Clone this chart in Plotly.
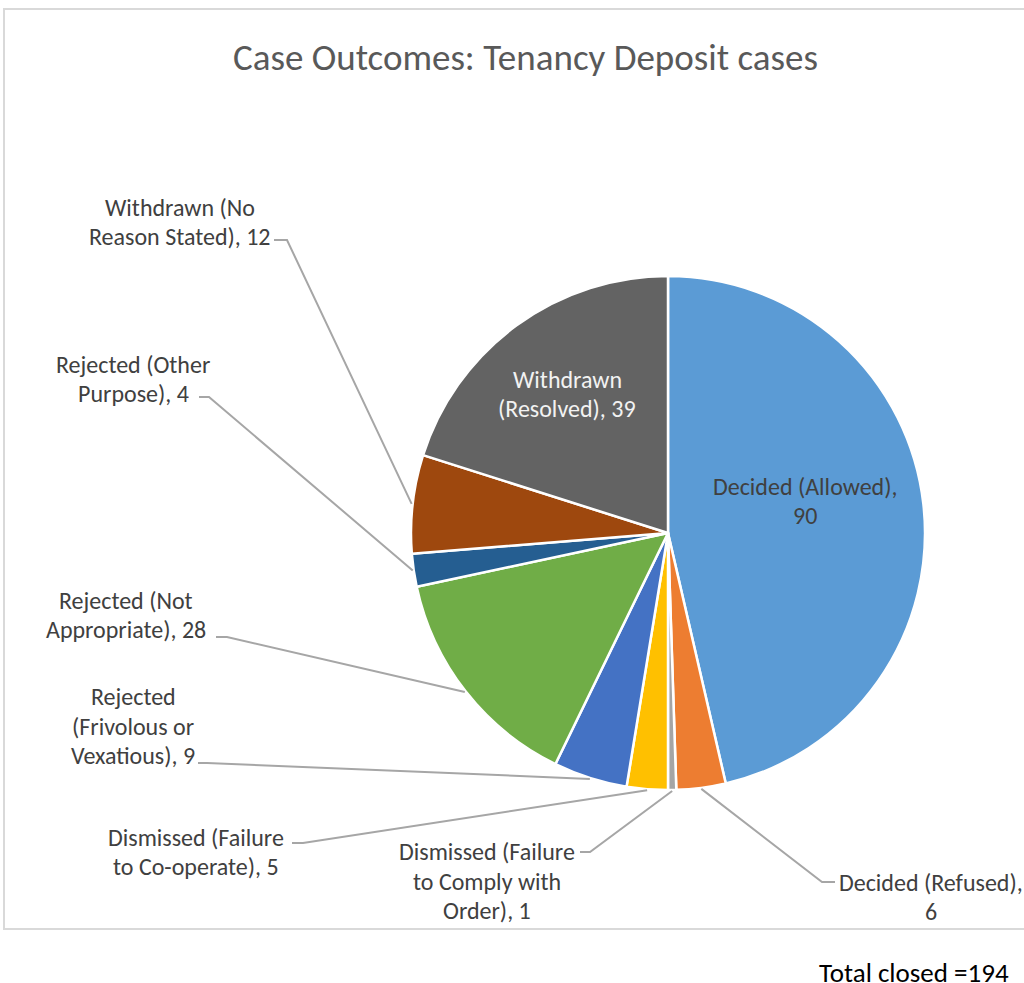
import math
import plotly.graph_objects as go

# ---- data ----
categories = [
    "Decided (Allowed)",
    "Decided (Refused)",
    "Dismissed (Failure to Comply with Order)",
    "Dismissed (Failure to Co-operate)",
    "Rejected (Frivolous or Vexatious)",
    "Rejected (Not Appropriate)",
    "Rejected (Other Purpose)",
    "Withdrawn (No Reason Stated)",
    "Withdrawn (Resolved)",
]
values = [90, 6, 1, 5, 9, 28, 4, 12, 39]
label_lines = [
    ["Decided (Allowed),", "90"],
    ["Decided (Refused),", "6"],
    ["Dismissed (Failure", "to Comply with", "Order), 1"],
    ["Dismissed (Failure", "to Co-operate), 5"],
    ["Rejected", "(Frivolous or", "Vexatious), 9"],
    ["Rejected (Not", "Appropriate), 28"],
    ["Rejected (Other", "Purpose), 4"],
    ["Withdrawn (No", "Reason Stated), 12"],
    ["Withdrawn", "(Resolved), 39"],
]
colors = ["#5B9BD5", "#ED7D31", "#A5A5A5", "#FFC000", "#4472C4",
          "#70AD47", "#255E91", "#9E480E", "#636363"]
title = "Case Outcomes: Tenancy Deposit cases"
footer = "Total closed =194"

# ---- layout (pixels) ----
W, H = 1024, 983
CX, CY, R = 668, 533, 257
FONT = "Carlito, Calibri, Lato, sans-serif"
TXT = "#404040"
LINE_H = 29.5

def px(x):
    return x / W

def py(y):
    return 1 - y / H

# label placement: text centre, elbow point and label-side end of leader line (px)
placement = {
    0: dict(inside=True, tx=805, ty=501, color=TXT),
    1: dict(tx=931, ty=897, elbow=(822, 882), end=(835, 882)),
    2: dict(tx=487, ty=881, elbow=(590, 852), end=(580, 852)),
    3: dict(tx=196, ty=852, elbow=(303, 843), end=(292, 843)),
    4: dict(tx=133, ty=726, elbow=(207, 763), end=(198, 763)),
    5: dict(tx=126, ty=615, elbow=(227, 637), end=(216, 637)),
    6: dict(tx=133, ty=379, elbow=(209, 397), end=(199, 397)),
    7: dict(tx=180, ty=222, elbow=(287, 240), end=(274, 240)),
    8: dict(inside=True, tx=567, ty=394, color="#F2F2F2"),
}

fig = go.Figure()
fig.add_trace(go.Pie(
    labels=categories,
    values=values,
    sort=False,
    direction="clockwise",
    rotation=0,
    marker=dict(colors=colors, line=dict(color="white", width=2.5)),
    textinfo="none",
    hoverinfo="label+value",
    showlegend=False,
    domain=dict(x=[px(CX - R), px(CX + R)], y=[py(CY + R), py(CY - R)]),
))

total = sum(values)
shapes = []
annotations = []
cum = 0
for i, v in enumerate(values):
    mid = (cum + v / 2) / total * 2 * math.pi
    cum += v
    p = placement[i]
    lines = label_lines[i]
    n = len(lines)
    for k, line in enumerate(lines):
        ly_ = p["ty"] + (k - (n - 1) / 2) * LINE_H
        annotations.append(dict(
            x=px(p["tx"]), y=py(ly_), xref="paper", yref="paper",
            text=line, showarrow=False, align="center",
            xanchor="center", yanchor="middle",
            font=dict(family=FONT, size=24, color=p.get("color", TXT)),
        ))
    if p.get("inside"):
        continue
    ex = CX + (R + 1) * math.sin(mid)
    ey = CY - (R + 1) * math.cos(mid)
    bx, by = p["elbow"]
    lx, ly = p["end"]
    path = f"M {px(ex)} {py(ey)} L {px(bx)} {py(by)} L {px(lx)} {py(ly)}"
    shapes.append(dict(type="path", path=path, xref="paper", yref="paper",
                       line=dict(color="#A6A6A6", width=2)))

# chart frame
shapes.append(dict(type="rect", xref="paper", yref="paper",
                   x0=px(4), x1=px(1030), y0=py(929), y1=py(9),
                   line=dict(color="#D9D9D9", width=2), layer="below"))

annotations.append(dict(
    x=px(525), y=py(57), xref="paper", yref="paper", text=title,
    showarrow=False, xanchor="center", yanchor="middle",
    font=dict(family=FONT, size=37, color="#595959"),
))
annotations.append(dict(
    x=px(1011), y=py(972), xref="paper", yref="paper", text=footer,
    showarrow=False, xanchor="right", yanchor="middle",
    font=dict(family=FONT, size=27, color="#000000"),
))

fig.update_layout(
    width=W, height=H,
    margin=dict(l=0, r=0, t=0, b=0),
    paper_bgcolor="white", plot_bgcolor="white",
    shapes=shapes, annotations=annotations,
)

fig.write_html("out.html")
